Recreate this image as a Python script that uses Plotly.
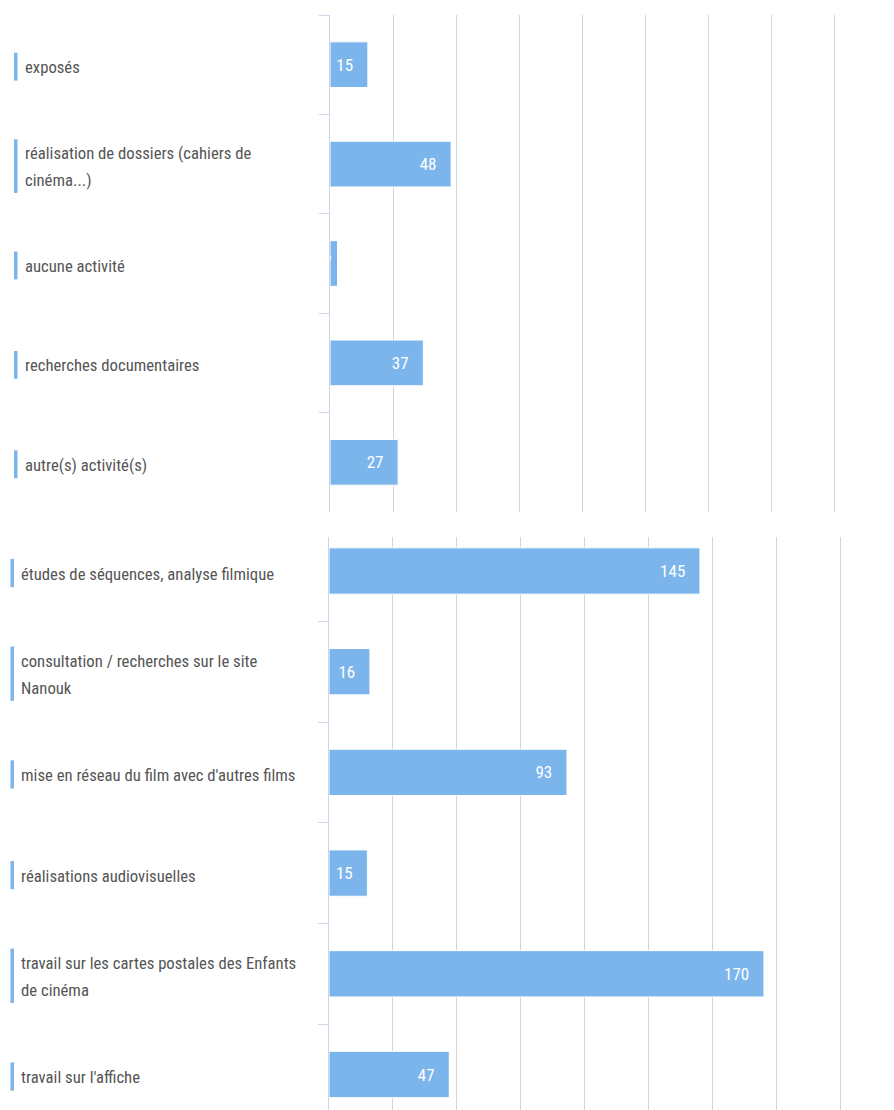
import plotly.graph_objects as go

# ---------------- data ----------------
top_categories = [
    "exposés",
    "réalisation de dossiers (cahiers de cinéma...)",
    "aucune activité",
    "recherches documentaires",
    "autre(s) activité(s)",
]
top_values = [15, 48, 3, 37, 27]
top_label_lines = [
    ["exposés"],
    ["réalisation de dossiers (cahiers de", "cinéma...)"],
    ["aucune activité"],
    ["recherches documentaires"],
    ["autre(s) activité(s)"],
]

bottom_categories = [
    "études de séquences, analyse filmique",
    "consultation / recherches sur le site Nanouk",
    "mise en réseau du film avec d'autres films",
    "réalisations audiovisuelles",
    "travail sur les cartes postales des Enfants de cinéma",
    "travail sur l'affiche",
]
bottom_values = [145, 16, 93, 15, 170, 47]
bottom_label_lines = [
    ["études de séquences, analyse filmique"],
    ["consultation / recherches sur le site", "Nanouk"],
    ["mise en réseau du film avec d'autres films"],
    ["réalisations audiovisuelles"],
    ["travail sur les cartes postales des Enfants", "de cinéma"],
    ["travail sur l'affiche"],
]

# ---------------- style ----------------
OFF = 8                     # page body margin of the browser
W, H = 894 - OFF, 1110 - OFF
BAR = "#7cb5ec"
GRID = "#d4d4d4"
AXIS = "#ccd6eb"
TEXT = "#555555"
LABEL_FONT = "Roboto Condensed, Roboto, sans-serif"
NBSP = "\u00a0"
XMAX = 200
XPAD = 1.0                  # small extra so that the last gridline is drawn


def px_x(p):
    return (p - OFF) / W


def px_y(p):
    return 1 - (p - OFF) / H


fig = go.Figure()

for vals, cats, xa, ya in [(top_values, top_categories, "x", "y"),
                           (bottom_values, bottom_categories, "x2", "y2")]:
    fig.add_trace(go.Bar(
        x=vals, y=cats, orientation="h",
        xaxis=xa, yaxis=ya, width=0.46,
        marker=dict(color=BAR, line=dict(color="#ffffff", width=1)),
        texttemplate="%{x}" + NBSP * 3, textposition="inside",
        insidetextanchor="end",
        textfont=dict(color="#ffffff", size=17, family=LABEL_FONT),
        hoverinfo="x+y", showlegend=False,
    ))

xcommon = dict(range=[0, XMAX + XPAD], dtick=25, tick0=0, showgrid=True, gridcolor=GRID,
               gridwidth=1, showticklabels=False, zeroline=False, showline=False,
               ticks="", fixedrange=True)
ycommon = dict(type="category", tickson="boundaries", ticks="outside", ticklen=10,
               tickcolor=AXIS, tickwidth=1, showline=True, linecolor=AXIS, linewidth=1,
               showticklabels=False, showgrid=False, zeroline=False, fixedrange=True)


def xdomain(left_px, right_px_at_max):
    span = right_px_at_max - left_px
    right = left_px + span * (XMAX + XPAD) / XMAX
    return [px_x(left_px), px_x(right)]


# bottom panel: visible plot area y 537..1110 px, first category centred at 571 px
bot_band = 100.7
bot_c0 = 571
bot_range = [(1110 - bot_c0) / bot_band, (537 - bot_c0) / bot_band]

fig.update_layout(
    width=W, height=H, autosize=False,
    margin=dict(l=0, r=0, t=0, b=0, pad=0),
    paper_bgcolor="#ffffff", plot_bgcolor="#ffffff",
    uniformtext=dict(minsize=17, mode="show"),
    xaxis=dict(domain=xdomain(330, 834.7), anchor="y", **xcommon),
    yaxis=dict(domain=[px_y(512), px_y(15)], anchor="x",
               categoryorder="array", categoryarray=top_categories,
               range=[len(top_categories) - 0.5, -0.5], **ycommon),
    xaxis2=dict(domain=xdomain(329, 840.7), anchor="y2", **xcommon),
    yaxis2=dict(domain=[0, px_y(537)], anchor="x2",
                categoryorder="array", categoryarray=bottom_categories,
                range=bot_range, **ycommon),
)

# category labels (left aligned) with the small blue marker bars
annotations = []
shapes = []
panels = [
    (top_label_lines, "y", 23, 14, 17.5),
    (bottom_label_lines, "y2", 18.5, 10.5, 14),
]
line_gap = 27
for lines_list, yref, text_x, mx0, mx1 in panels:
    for i, lines in enumerate(lines_list):
        n = len(lines)
        for k, line in enumerate(lines):
            shift = ((n - 1) / 2 - k) * line_gap - 3
            annotations.append(dict(
                text=line, xref="paper", yref=yref, x=px_x(text_x), y=i,
                xanchor="left", yanchor="middle", yshift=shift, showarrow=False,
                font=dict(family=LABEL_FONT, size=16.7, color=TEXT),
            ))
        half = 0.14 if n == 1 else 0.27
        shapes.append(dict(
            type="rect", xref="paper", yref=yref,
            x0=px_x(mx0), x1=px_x(mx1), y0=i - half + 0.02, y1=i + half + 0.02,
            fillcolor=BAR, line=dict(width=0), layer="above",
        ))

fig.update_layout(annotations=annotations, shapes=shapes)

fig.write_html("out.html")
